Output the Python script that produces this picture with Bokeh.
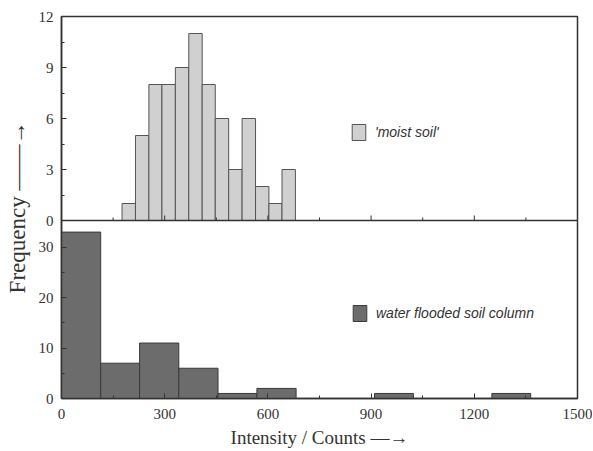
import numpy as np
from bokeh.plotting import figure
from bokeh.models import Range1d, FixedTicker, Span, Legend, LegendItem
from bokeh.embed import file_html
from bokeh.resources import INLINE

# ---- data ----
moist_edges = [176, 215, 254, 292, 331, 370, 409, 447, 486, 525, 564, 603, 641, 680]
moist_counts = [1, 5, 8, 8, 9, 11, 8, 6, 3, 6, 2, 1, 3]

flood_edges = [0, 114, 227, 341, 455, 568, 682, 796, 910, 1023, 1137, 1251, 1364, 1478]
flood_counts = [33, 7, 11, 6, 1, 2, 0, 0, 1, 0, 0, 1, 0]

x_major = [0, 300, 600, 900, 1200, 1500]
x_minor = [150, 450, 750, 1050, 1350]
top_major = [0, 3, 6, 9, 12]
top_minor = [1.5, 4.5, 7.5, 10.5]
bottom_major = [0, 10, 20, 30]
bottom_minor = [5, 15, 25]

moist_label = "'moist soil'"
flood_label = "water flooded soil column"
x_title = "Intensity / Counts —→"
y_title = "Frequency ——→"

# ---- layout constants ----
INK = "#333333"
SERIF = "Liberation Serif"
W, H = 592, 450
LEFT, RIGHT, TOP, BOTTOM = 61, 15, 16, 52
TOP_PX, BOTTOM_PX = 204, 178          # heights of the two stacked panels
BOTTOM_YMAX, TOP_YMAX = 35.3, 12.0

SCALE = round((TOP_PX / TOP_YMAX) ** -1 * (BOTTOM_PX / BOTTOM_YMAX) ** 0 * (BOTTOM_YMAX / BOTTOM_PX) ** -1, 6)
# main-range units per upper-panel unit
K = (BOTTOM_YMAX / BOTTOM_PX) * (TOP_PX / TOP_YMAX)
Y_END = round(BOTTOM_YMAX + TOP_YMAX * K, 4) + 0.001
TOP_START = -TOP_YMAX * BOTTOM_PX / TOP_PX

def to_main(v):
    return round(BOTTOM_YMAX + v * K, 4)

p = figure(width=W, height=H, x_range=Range1d(0, 1500), y_range=Range1d(0, Y_END),
           output_backend="svg", toolbar_location=None,
           min_border_left=LEFT, min_border_right=RIGHT,
           min_border_top=TOP, min_border_bottom=BOTTOM)
p.extra_y_ranges = {"moist": Range1d(TOP_START, TOP_YMAX)}
p.grid.visible = False
p.outline_line_color = INK
p.outline_line_width = 1.5

r_flood = p.quad(left=flood_edges[:-1], right=flood_edges[1:], top=flood_counts, bottom=0,
                 fill_color="#6c6c6c", line_color="#3a3a3a", line_width=1)
r_moist = p.quad(left=moist_edges[:-1], right=moist_edges[1:], top=moist_counts, bottom=0,
                 y_range_name="moist",
                 fill_color="#d0d0d0", line_color="#555555", line_width=1)

# divider between the panels (zero line of the upper panel) with its inward ticks
p.add_layout(Span(location=BOTTOM_YMAX, dimension="width", line_color=INK, line_width=1.5))
px_per_top = TOP_PX / TOP_YMAX
p.segment(x0=x_major, x1=x_major, y0=0, y1=5 / px_per_top, y_range_name="moist",
          line_color=INK, line_width=1)
p.segment(x0=x_minor, x1=x_minor, y0=0, y1=3 / px_per_top, y_range_name="moist",
          line_color=INK, line_width=1)

# axes
yticks = bottom_major + [to_main(v) for v in top_major]
yminor = bottom_minor + [to_main(v) for v in top_minor]
p.yaxis.ticker = FixedTicker(ticks=yticks, minor_ticks=yminor)
p.yaxis.major_label_overrides = {to_main(v): str(int(v)) for v in top_major}
p.xaxis.ticker = FixedTicker(ticks=x_major, minor_ticks=x_minor)

for ax in p.axis:
    ax.axis_line_color = INK
    ax.axis_line_width = 1.5
    ax.major_tick_line_color = INK
    ax.minor_tick_line_color = INK
    ax.major_tick_in = 5
    ax.major_tick_out = 0
    ax.minor_tick_in = 3
    ax.minor_tick_out = 0
    ax.major_label_text_font = SERIF
    ax.major_label_text_font_size = "15px"
    ax.major_label_text_color = INK
    ax.axis_label_text_font = SERIF
    ax.axis_label_text_font_style = "normal"
    ax.axis_label_text_color = INK

p.yaxis.major_label_standoff = 8
p.yaxis.axis_label = y_title
p.yaxis.axis_label_text_font_size = "23px"
p.yaxis.axis_label_standoff = 6

p.xaxis.major_label_standoff = 10
p.xaxis.axis_label = x_title
p.xaxis.axis_label_text_font_size = "19px"
p.xaxis.axis_label_standoff = 5

for r, label, loc in ((r_moist, moist_label, (289, 256)), (r_flood, flood_label, (290, 75))):
    lg = Legend(items=[LegendItem(label=label, renderers=[r])], location=loc)
    lg.margin = 0
    lg.padding = 0
    lg.border_line_color = None
    lg.background_fill_alpha = 0
    lg.glyph_width = 17
    lg.glyph_height = 20
    lg.label_height = 20
    lg.label_standoff = 8
    lg.label_text_font = "Liberation Sans"
    lg.label_text_font_style = "italic"
    lg.label_text_font_size = "14px"
    lg.label_text_color = INK
    p.add_layout(lg)

open("out.html", "w").write(file_html(p, INLINE))
